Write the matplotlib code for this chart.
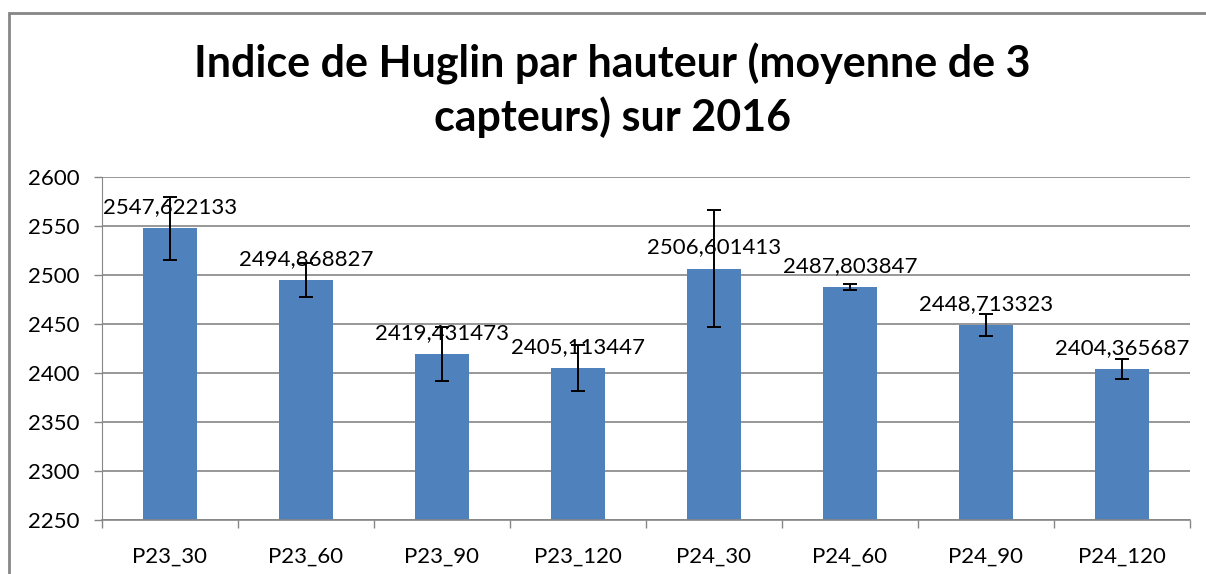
import matplotlib as mpl
mpl.use('agg')
import matplotlib.pyplot as plt
from matplotlib.patches import Rectangle

# Huglin index per sensor height (mean of 3 sensors), 2016
categories = ['P23_30', 'P23_60', 'P23_90', 'P23_120',
              'P24_30', 'P24_60', 'P24_90', 'P24_120']
means = [2547.622133, 2494.868827, 2419.431473, 2405.113447,
         2506.601413, 2487.803847, 2448.713323, 2404.365687]
errors = [32, 17, 28, 23, 60, 3.5, 11, 10]
labels = ['2547,622133', '2494,868827', '2419,431473', '2405,113447',
          '2506,601413', '2487,803847', '2448,713323', '2404,365687']
yticks = [2250, 2300, 2350, 2400, 2450, 2500, 2550, 2600]

plt.rcParams['font.family'] = ['Lato', 'DejaVu Sans']

fig = plt.figure(figsize=(12.06, 5.74), dpi=100)

# chart frame (gray border, cut off at right and bottom)
fig.patches.append(Rectangle((9 / 1206, -0.1), 1.2, 1 - 13 / 574 + 0.1,
                             transform=fig.transFigure, fill=False,
                             edgecolor='#868686', linewidth=2))

ax = fig.add_axes([102 / 1206, 54 / 574, 1088 / 1206, 343 / 574])

x = range(len(categories))
ax.bar(x, means, width=0.39, color='#4F81BD', zorder=2)
ax.errorbar(x, means, yerr=errors, fmt='none', ecolor='black',
            elinewidth=1.4, capsize=5, capthick=1.4, zorder=3)

for xi, m, lab in zip(x, means, labels):
    ax.annotate(lab, (xi, m), xytext=(0, 8), textcoords='offset points',
                ha='center', va='bottom', fontsize=16, color='black', zorder=4)

ax.set_xlim(-0.5, len(categories) - 0.5)
ax.set_ylim(2250, 2600)
ax.set_yticks(yticks)
ax.set_xticks([i - 0.5 for i in range(len(categories) + 1)], minor=False)
ax.set_xticklabels([])
ax.set_xticks(list(x), minor=True)
ax.set_xticklabels(categories, minor=True)
ax.tick_params(axis='x', which='major', length=6, width=1, color='#868686', direction='out')
ax.tick_params(axis='x', which='minor', length=0, pad=19, labelsize=16)
ax.tick_params(axis='y', length=6, width=1, color='#868686', direction='out',
               pad=10, labelsize=16)

ax.yaxis.grid(True, color='#868686', linewidth=1.2, zorder=0)
ax.set_axisbelow(True)
for side in ['top', 'right']:
    ax.spines[side].set_visible(False)
ax.spines['left'].set_color('#868686')
ax.spines['left'].set_linewidth(0.8)
ax.spines['bottom'].set_color('#868686')
ax.spines['bottom'].set_linewidth(1.2)

fig.text(0.508, 0.842, 'Indice de Huglin par hauteur (moyenne de 3\ncapteurs) sur 2016',
         ha='center', va='center', fontsize=31, fontweight='bold',
         linespacing=1.33)

fig.savefig('out.png', dpi=100)
